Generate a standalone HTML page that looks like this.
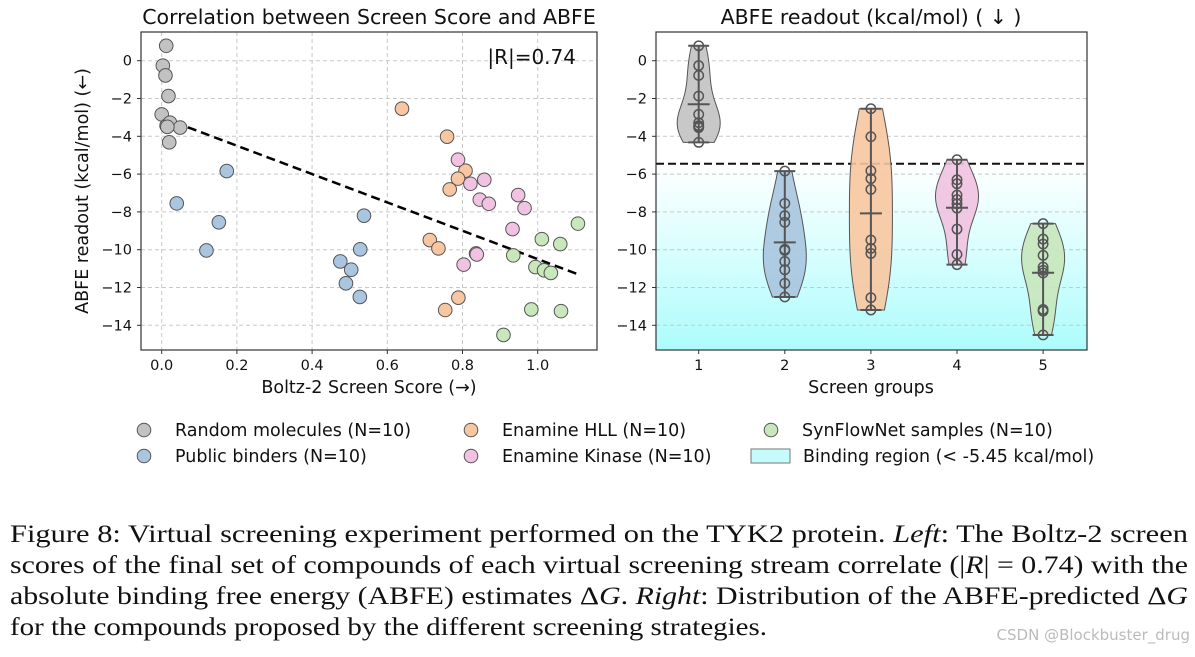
<!DOCTYPE html>
<html><head><meta charset="utf-8"><style>
body{margin:0;background:#fff;width:1195px;height:652px;overflow:hidden}
svg text{font-family:"DejaVu Sans","Liberation Sans",sans-serif;fill:#111}
.cap{font-family:"Liberation Serif",serif;font-size:25px;fill:#111}
</style></head><body>
<svg id="s" width="1195" height="652" xmlns="http://www.w3.org/2000/svg">
<defs><linearGradient id="cy" x1="0" y1="0" x2="0" y2="1"><stop offset="0" stop-color="#ffffff"/><stop offset="1" stop-color="#aefcfc"/></linearGradient></defs>
<g id="left"></g>
<g id="right"></g>
<g id="legend"></g>
<g>
<text class="cap" x="10" y="542" textLength="1178" lengthAdjust="spacingAndGlyphs">Figure 8: Virtual screening experiment performed on the TYK2 protein. <tspan font-style="italic">Left</tspan>: The Boltz-2 screen</text>
<text class="cap" x="10" y="573" textLength="1178" lengthAdjust="spacingAndGlyphs">scores of the final set of compounds of each virtual screening stream correlate (|<tspan font-style="italic">R</tspan>| = 0.74) with the</text>
<text class="cap" x="10" y="604" textLength="1178" lengthAdjust="spacingAndGlyphs">absolute binding free energy (ABFE) estimates Δ<tspan font-style="italic">G</tspan>. <tspan font-style="italic">Right</tspan>: Distribution of the ABFE-predicted Δ<tspan font-style="italic">G</tspan></text>
<text class="cap" x="10" y="635" textLength="757" lengthAdjust="spacingAndGlyphs">for the compounds proposed by the different screening strategies.</text>
<text x="1190" y="640" text-anchor="end" style="font-size:15px;fill:#bbb">CSDN @Blockbuster_drug</text>
</g>
</svg>
<script>
const groups=["Random molecules (N=10)","Public binders (N=10)","Enamine HLL (N=10)","Enamine Kinase (N=10)","SynFlowNet samples (N=10)"];
const colors=["#c2c2c2","#a9c5df","#f8c6a0","#f1c2e1","#c8e7bb"];
const scoreX=[[.012,.003,.01,.018,0,.013,.022,.049,.02,.015],[.04,.173,.152,.119,.538,.528,.475,.504,.49,.527],[.639,.759,.808,.788,.766,.713,.736,.789,.754,.836],[.788,.821,.858,.846,.87,.948,.965,.933,.838,.803],[1.107,1.011,1.06,.935,.994,1.017,1.035,.983,1.062,.909]];
const abfeY=[[.79,-.26,-.78,-1.87,-2.84,-3.44,-3.28,-3.54,-4.32,-3.5],[-7.55,-5.84,-8.55,-10.04,-8.2,-9.98,-10.62,-11.06,-11.78,-12.5],[-2.54,-4.02,-5.82,-6.24,-6.81,-9.49,-9.93,-12.54,-13.19,-10.2],[-5.24,-6.51,-6.3,-7.35,-7.57,-7.11,-7.8,-8.91,-10.25,-10.79],[-8.62,-9.44,-9.7,-10.3,-10.92,-11.09,-11.23,-13.16,-13.25,-14.51]];
const xTicks=[0,0.2,0.4,0.6,0.8,1.0];
const yTicks=[0,-2,-4,-6,-8,-10,-12,-14];
const fitLine=[[0,-3.0],[1.107,-11.3]];
const threshold=-5.45;
const rText="|R|=0.74";
const NS="http://www.w3.org/2000/svg";
function el(p,t,a,txt){const e=document.createElementNS(NS,t);for(const k in a)e.setAttribute(k,a[k]);if(txt!==undefined)e.textContent=txt;p.appendChild(e);return e;}
const Y=v=>60.7-v*18.9;
const LX=v=>161.7+v*376;
const RX=v=>698.7+(v-1)*86.1;
const AT=32,AB=350,TF=14.5,LF=17.5;
// LEFT
const L=document.getElementById('left');
for(const t of xTicks){const g=el(L,'line',{x1:LX(t),x2:LX(t),y1:AT,y2:AB,stroke:'#c8c8c8','stroke-dasharray':'4,3'});
 el(L,'line',{x1:LX(t),x2:LX(t),y1:AB,y2:AB+4,stroke:'#333'});
 const tx=el(L,'text',{x:LX(t),y:AB+20,'text-anchor':'middle','font-size':TF},t.toFixed(1));}
for(const t of yTicks){const g=el(L,'line',{x1:141,x2:597,y1:Y(t),y2:Y(t),stroke:'#c8c8c8','stroke-dasharray':'4,3'});
 el(L,'line',{x1:137,x2:141,y1:Y(t),y2:Y(t),stroke:'#333'});
 const tx=el(L,'text',{x:132,y:Y(t)+5,'text-anchor':'end','font-size':TF},t===0?'0':'−'+(-t));}
const fl=el(L,'line',{x1:LX(fitLine[0][0]),y1:Y(fitLine[0][1]),x2:LX(fitLine[1][0]),y2:Y(fitLine[1][1]),stroke:'#000','stroke-width':2.5,'stroke-dasharray':'9,5'});

groups.forEach((g,i)=>{scoreX[i].forEach((x,j)=>{const c=el(L,'circle',{cx:LX(x),cy:Y(abfeY[i][j]),r:6.8,fill:colors[i],stroke:'#555','stroke-width':1});
 });});
el(L,'rect',{x:141,y:AT,width:456,height:AB-AT,fill:'none',stroke:'#333','stroke-width':1.2});
const rt=el(L,'text',{x:576,y:64,'text-anchor':'end','font-size':20},rText);
let t1=el(L,'text',{x:369,y:24,'text-anchor':'middle','font-size':20.5},'Correlation between Screen Score and ABFE');
let t2=el(L,'text',{x:369,y:393,'text-anchor':'middle','font-size':LF},'Boltz-2 Screen Score (→)');
let t3=el(L,'text',{x:0,y:0,'text-anchor':'middle','font-size':LF,transform:'translate(88,191) rotate(-90)'},'ABFE readout (kcal/mol) (←)');
// RIGHT
const R=document.getElementById('right');
const br=el(R,'rect',{x:656,y:Y(threshold),width:431,height:AB-Y(threshold),fill:'url(#cy)'});
for(const t of yTicks){el(R,'line',{x1:656,x2:1087,y1:Y(t),y2:Y(t),stroke:'#c8c8c8','stroke-dasharray':'4,3'});
 el(R,'line',{x1:652,x2:656,y1:Y(t),y2:Y(t),stroke:'#333'});
 const tx=el(R,'text',{x:647,y:Y(t)+5,'text-anchor':'end','font-size':TF},t===0?'0':'−'+(-t));}
const th=el(R,'line',{x1:656,x2:1087,y1:Y(threshold),y2:Y(threshold),stroke:'#111','stroke-width':2,'stroke-dasharray':'8,4'});
abfeY.forEach((vals,i)=>{
 const n=vals.length,mean=vals.reduce((a,b)=>a+b)/n,sd=Math.sqrt(vals.reduce((a,b)=>a+(b-mean)**2,0)/(n-1));
 const bw=sd*Math.pow(n,-0.2),mn=Math.min(...vals),mx=Math.max(...vals);
 const ys=[],ds=[];for(let k=0;k<=60;k++){const y=mn+(mx-mn)*k/60;let d=0;for(const v of vals)d+=Math.exp(-0.5*((y-v)/bw)**2);ys.push(y);ds.push(d);}
 const dm=Math.max(...ds),cx=RX(i+1),hw=21.5;
 let p='';ys.forEach((y,k)=>{p+=(k?'L':'M')+(cx+ds[k]/dm*hw)+','+Y(y);});for(let k=ys.length-1;k>=0;k--)p+='L'+(cx-ds[k]/dm*hw)+','+Y(ys[k]);p+='Z';
 const v=el(R,'path',{d:p,fill:colors[i],'fill-opacity':.9,stroke:'#555','stroke-width':1});
 el(R,'line',{x1:cx,x2:cx,y1:Y(mx),y2:Y(mn),stroke:'#555','stroke-width':2});
 for(const y of [mn,mx])el(R,'line',{x1:cx-10.5,x2:cx+10.5,y1:Y(y),y2:Y(y),stroke:'#555','stroke-width':2});
 const ml=el(R,'line',{x1:cx-11,x2:cx+11,y1:Y(mean),y2:Y(mean),stroke:'#555','stroke-width':2});
 vals.forEach(y=>{const c=el(R,'circle',{cx:cx,cy:Y(y),r:4.7,fill:'none',stroke:'#555','stroke-width':1.5});});
 el(R,'line',{x1:cx,x2:cx,y1:AB,y2:AB+4,stroke:'#333'});
 const tx=el(R,'text',{x:cx,y:AB+20,'text-anchor':'middle','font-size':TF},String(i+1));
});
el(R,'rect',{x:656,y:AT,width:431,height:AB-AT,fill:'none',stroke:'#333','stroke-width':1.2});
let t4=el(R,'text',{x:871,y:24,'text-anchor':'middle','font-size':20.5},'ABFE readout (kcal/mol) ( ↓ )');
let t5=el(R,'text',{x:871,y:393,'text-anchor':'middle','font-size':LF},'Screen groups');
// LEGEND
const G=document.getElementById('legend');
const pos=[[144,430],[144,456],[471,430],[471,456],[771,430]];
groups.forEach((g,i)=>{const c=el(G,'circle',{cx:pos[i][0],cy:pos[i][1],r:6.8,fill:colors[i],stroke:'#555'});
 const t=el(G,'text',{x:pos[i][0]+31,y:pos[i][1]+6,'font-size':LF},g);});
const lr=el(G,'rect',{x:751,y:449,width:39,height:14,fill:'#c6fbfb',stroke:'#777'});
const lt=el(G,'text',{x:803,y:462,'font-size':LF},'Binding region (< -5.45 kcal/mol)');
</script>
</body></html>
